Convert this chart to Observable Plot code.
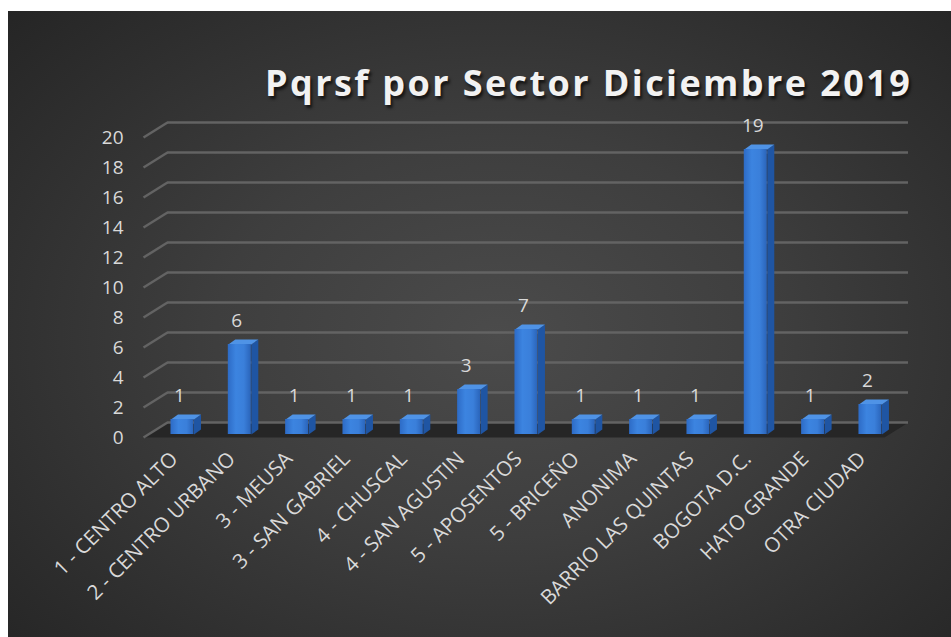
<!DOCTYPE html>
<html>
<head>
<meta charset="utf-8">
<script src="https://cdn.jsdelivr.net/npm/d3@7"></script>
<script src="https://cdn.jsdelivr.net/npm/@observablehq/plot@0.6"></script>
<style>
  html, body { margin: 0; padding: 0; background: #ffffff; }
  #wrap { position: relative; width: 951px; height: 637px; overflow: hidden; }
  #bg { position: absolute; left: 8px; top: 11px; width: 943px; height: 626px;
        background: radial-gradient(ellipse 75% 80% at 52% 52%, #4b4b4b 0%, #3e3e3e 40%, #2e2e2e 75%, #232323 100%); }
  #title { position: absolute; left: 265px; top: 61px; font-family: "Open Sans", sans-serif; font-weight: 700;
           font-size: 36px; line-height: 44px; letter-spacing: 2.4px; color: #f2f2f2; white-space: nowrap;
           text-shadow: 2px 3px 3px rgba(0,0,0,0.65); }
  #chart { position: absolute; left: 0; top: 0; }
</style>
</head>
<body>
<div id="wrap">
  <div id="bg"></div>
  <div id="chart"></div>
  <div id="title">Pqrsf por Sector Diciembre 2019</div>
</div>
<script>
const categories = ["1 - CENTRO ALTO","2 - CENTRO URBANO","3 - MEUSA","3 - SAN GABRIEL","4 - CHUSCAL","4 - SAN AGUSTIN","5 - APOSENTOS","5 - BRICEÑO","ANONIMA","BARRIO LAS QUINTAS","BOGOTA D.C.","HATO GRANDE","OTRA CIUDAD"];
const values = [1, 6, 1, 1, 1, 3, 7, 1, 1, 1, 19, 1, 2];
const yTicks = [0, 2, 4, 6, 8, 10, 12, 14, 16, 18, 20];

const W = 951, H = 637;
const xL = -0.645, xR = 12.28;
const xRange = [143, 884];
const yRange = [437, 137];
const pxX = (xRange[1] - xRange[0]) / (xR - xL);
const pxY = (yRange[0] - yRange[1]) / 20;
// 3D depth of the grid (pixels converted to data units)
const du = 24 / pxX, dv = 15 / pxY;
// bar geometry
const hw = 11.5 / pxX, bdu = 7 / pxX, bdv = 5 / pxY;

const data = categories.map((c, i) => ({i, c, v: values[i]}));

const floor = [
  {x: xL, y: 0}, {x: xR, y: 0}, {x: xR + du, y: dv}, {x: xL + du, y: dv}, {x: xL, y: 0}
];
const sides = data.flatMap(d => [
  {z: d.i, x: d.i + hw, y: 0}, {z: d.i, x: d.i + hw, y: d.v},
  {z: d.i, x: d.i + hw + bdu, y: d.v + bdv}, {z: d.i, x: d.i + hw + bdu, y: bdv}
]);
const tops = data.flatMap(d => [
  {z: d.i, x: d.i - hw, y: d.v}, {z: d.i, x: d.i + hw, y: d.v},
  {z: d.i, x: d.i + hw + bdu, y: d.v + bdv}, {z: d.i, x: d.i - hw + bdu, y: d.v + bdv}
]);

const font = "'Open Sans', sans-serif";

const chart = Plot.plot({
  width: W, height: H,
  marginLeft: xRange[0], marginRight: W - xRange[1],
  marginTop: yRange[1], marginBottom: H - yRange[0],
  style: {background: "transparent", fontFamily: font, color: "#d9d9d9", overflow: "visible"},
  x: {type: "linear", domain: [xL, xR], range: xRange, axis: null},
  y: {domain: [0, 20], range: yRange, axis: null},
  marks: [
    Plot.line(floor, {x: "x", y: "y", fill: "#262626", stroke: "none"}),
    Plot.ruleY(yTicks, {y: d => d, x1: xL, x2: xR, dx: 24, dy: -15, stroke: "#636363", strokeWidth: 2.5}),
    Plot.link(yTicks, {x1: xL, y1: d => d, x2: xL + du, y2: d => d + dv, stroke: "#636363", strokeWidth: 2.5}),
    Plot.line(sides, {x: "x", y: "y", z: "z", fill: "#1f55a3", stroke: "none", dy: -3, dx: 2}),
    Plot.line(tops, {x: "x", y: "y", z: "z", fill: "#4f93e6", stroke: "none", dy: -3, dx: 2}),
    Plot.rect(data, {x1: d => d.i - hw, x2: d => d.i + hw, y1: 0, y2: "v", fill: "url(#barFront)", dy: -3, dx: 2}),
    Plot.text(data, {x: "i", y: "v", text: d => String(d.v), dy: -27, dx: -1, fill: "#d9d9d9", fontSize: 19}),
    Plot.axisY(yTicks, {tickSize: 0, tickPadding: 20, fontSize: 19, fill: "#d9d9d9", tickFormat: d => String(d)}),
    Plot.axisX(data.map(d => d.i), {tickSize: 0, tickPadding: 18, tickRotate: -45, fontSize: 20.5, fill: "#d9d9d9",
      tickFormat: i => categories[i], dx: -6})
  ]
});

const ns = "http://www.w3.org/2000/svg";
const defs = document.createElementNS(ns, "defs");
defs.innerHTML = `<linearGradient id="barFront" x1="0" x2="1" y1="0" y2="0">
  <stop offset="0" stop-color="#2d6bc6"/>
  <stop offset="0.35" stop-color="#3c84e0"/>
  <stop offset="0.7" stop-color="#3a7fda"/>
  <stop offset="1" stop-color="#2a64ba"/>
</linearGradient>`;
chart.insertBefore(defs, chart.firstChild);
document.getElementById("chart").appendChild(chart);
</script>
</body>
</html>
